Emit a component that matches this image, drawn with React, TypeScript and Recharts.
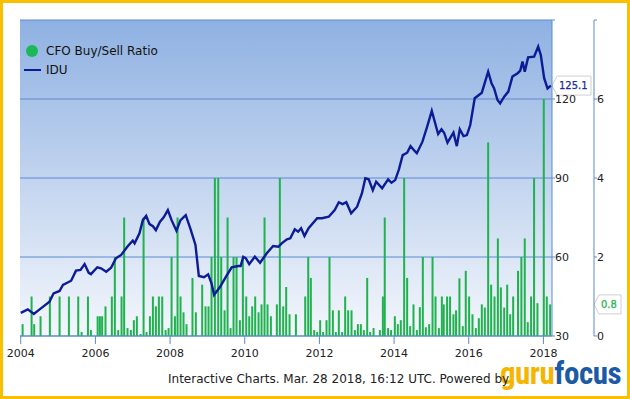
import React from 'react';
import { ComposedChart, Bar, Line, XAxis, YAxis, CartesianGrid, ReferenceLine } from 'recharts';

const barDates = [
  2004.05, 2004.29, 2004.36, 2004.53, 2004.78, 2005.04, 2005.29, 2005.54, 2005.63, 2005.80, 2005.88,
  2006.06, 2006.12, 2006.18, 2006.27, 2006.44, 2006.52, 2006.61, 2006.70, 2006.77, 2006.86, 2006.95,
  2007.03, 2007.11, 2007.21, 2007.29, 2007.37, 2007.46, 2007.54, 2007.62, 2007.70, 2007.79, 2007.88, 2007.96,
  2008.04, 2008.13, 2008.20, 2008.28, 2008.36, 2008.44, 2008.60, 2008.69, 2008.86, 2008.95,
  2009.03, 2009.11, 2009.20, 2009.29, 2009.37, 2009.46, 2009.54, 2009.62, 2009.70, 2009.78, 2009.87, 2009.95,
  2010.04, 2010.12, 2010.20, 2010.28, 2010.37, 2010.45, 2010.53, 2010.61, 2010.70, 2010.86, 2010.94,
  2011.03, 2011.11, 2011.20, 2011.37, 2011.62, 2011.70, 2011.77, 2011.86, 2011.94,
  2012.02, 2012.10, 2012.19, 2012.27, 2012.36, 2012.44, 2012.52, 2012.61, 2012.69, 2012.77, 2012.86, 2012.95,
  2013.03, 2013.11, 2013.19, 2013.28, 2013.36, 2013.45, 2013.62, 2013.70, 2013.75, 2013.84, 2013.92,
  2014.02, 2014.10, 2014.18, 2014.27, 2014.35, 2014.43, 2014.52, 2014.61, 2014.69, 2014.77, 2014.85, 2014.94,
  2015.03, 2015.11, 2015.20, 2015.28, 2015.33, 2015.42, 2015.50, 2015.59, 2015.66, 2015.75, 2015.84, 2015.92,
  2016.01, 2016.10, 2016.19, 2016.27, 2016.35, 2016.43, 2016.52, 2016.60, 2016.69, 2016.78, 2016.86, 2016.95,
  2017.03, 2017.11, 2017.19, 2017.32, 2017.41, 2017.50, 2017.58, 2017.67, 2017.75, 2017.84,
  2018.01, 2018.09, 2018.18,
];
const barValues = [
  0.3, 1.0, 0.3, 0.5, 1.0, 1.0, 1.0, 1.0, 0.1, 1.0, 0.15,
  0.5, 0.5, 0.5, 0.75, 1.0, 2.0, 0.15, 1.0, 3.0, 0.2, 0.15,
  0.4, 0.5, 0.05, 3.0, 0.1, 0.5, 1.0, 0.75, 1.0, 1.0, 0.15, 0.2,
  2.0, 0.5, 3.0, 1.0, 0.6, 0.3, 1.47, 0.6, 1.3, 0.75,
  0.75, 2.0, 4.0, 4.0, 2.0, 0.65, 3.0, 0.2, 2.0, 2.0, 0.4, 2.0,
  1.0, 0.5, 0.75, 1.0, 0.6, 0.8, 3.0, 0.8, 0.5, 0.8, 4.0,
  0.75, 1.24, 0.55, 0.55, 1.0, 2.0, 1.47, 0.15, 0.1,
  0.4, 0.1, 0.4, 2.0, 0.65, 0.1, 0.65, 0.1, 1.0, 0.65, 0.65, 0.15,
  0.3, 0.3, 0.15, 1.47, 0.1, 0.2, 0.15, 1.0, 3.0, 0.2, 0.15,
  0.5, 0.3, 0.4, 4.0, 1.47, 0.25, 0.8, 0.15, 0.73, 2.0, 0.22, 0.3,
  2.0, 1.0, 0.2, 1.0, 0.8, 1.0, 1.0, 0.55, 0.65, 1.46, 0.25, 1.65,
  1.0, 0.55, 0.2, 0.45, 0.8, 0.72, 4.9, 1.3, 1.0, 2.47, 1.23, 0.72,
  1.3, 0.55, 1.0, 1.65, 2.0, 2.47, 0.35, 1.0, 4.0, 0.83,
  6.0, 1.0, 0.8,
];

const iduDates = [
  2004.00, 2004.19, 2004.35, 2004.54, 2004.77, 2004.88, 2005.04, 2005.13, 2005.35, 2005.48, 2005.60, 2005.71,
  2005.82, 2005.88, 2006.05, 2006.15, 2006.29, 2006.42, 2006.55, 2006.69, 2006.87, 2007.00, 2007.05, 2007.18,
  2007.27, 2007.36, 2007.45, 2007.54, 2007.62, 2007.73, 2007.83, 2007.94, 2008.04, 2008.17, 2008.28, 2008.42,
  2008.55, 2008.68, 2008.77, 2008.91, 2009.02, 2009.11, 2009.18, 2009.34, 2009.51, 2009.65, 2009.83, 2009.89,
  2009.96, 2010.03, 2010.12, 2010.27, 2010.41, 2010.59, 2010.76, 2010.90, 2010.99, 2011.13, 2011.22, 2011.34,
  2011.43, 2011.51, 2011.60, 2011.71, 2011.94, 2012.07, 2012.25, 2012.41, 2012.52, 2012.62, 2012.72, 2012.85,
  2013.01, 2013.14, 2013.23, 2013.32, 2013.43, 2013.52, 2013.68, 2013.84, 2013.93, 2014.03, 2014.13, 2014.23,
  2014.35, 2014.44, 2014.57, 2014.61, 2014.76, 2014.88, 2015.01, 2015.18, 2015.27, 2015.34, 2015.43, 2015.59,
  2015.68, 2015.76, 2015.86, 2015.95, 2016.04, 2016.16, 2016.35, 2016.52, 2016.61, 2016.68, 2016.77, 2016.84,
  2016.95, 2017.06, 2017.17, 2017.31, 2017.38, 2017.44, 2017.50, 2017.59, 2017.75, 2017.86, 2017.93, 2018.02,
  2018.11, 2018.20,
];
const iduValues = [
  38.8, 40.1, 38.4, 40.5, 43.0, 46.2, 47.1, 49.4, 51.0, 54.8, 55.1, 57.3,
  54.0, 53.5, 56.1, 55.7, 54.4, 55.9, 59.5, 60.8, 64.2, 66.2, 65.2, 69.0,
  74.0, 75.6, 72.5, 71.7, 70.2, 73.4, 75.1, 77.8, 74.0, 70.0, 74.0, 75.9,
  70.5, 64.6, 52.8, 52.3, 53.4, 50.0, 45.6, 48.7, 52.8, 56.1, 56.6, 56.6,
  60.1, 59.5, 57.3, 60.1, 57.8, 61.4, 64.2, 63.9, 65.2, 66.7, 67.1, 70.5,
  69.6, 70.9, 68.0, 70.9, 74.7, 74.7, 75.3, 77.8, 80.8, 80.1, 80.8, 76.6,
  79.1, 84.2, 89.9, 89.5, 85.4, 88.6, 86.1, 89.5, 88.2, 89.2, 93.3, 98.7,
  99.6, 102.1, 100.0, 99.4, 103.8, 109.2, 115.5, 106.7, 108.5, 107.2, 103.4, 107.2,
  102.1, 108.5, 105.9, 106.3, 110.1, 120.3, 122.4, 130.4, 126.0, 124.0, 119.6, 118.3,
  120.9, 122.8, 128.5, 129.8, 130.8, 134.2, 130.4, 135.8, 136.1, 139.9, 136.7, 127.9,
  124.0, 125.1,
];

const yearTicks = [2004, 2006, 2008, 2010, 2012, 2014, 2016, 2018];
const iduTicks = [30, 60, 90, 120, 150];
const ratioTicks = [0, 2, 4, 6, 8];
const xDomain = [2003.98, 2018.23];
const iduDomain = [30, 150];
const ratioDomain = [0, 8];

const lastIdu = iduValues[iduValues.length - 1];
const lastRatio = barValues[barValues.length - 1];

const data = [
  ...barDates.map((d, i) => ({ date: d, ratio: barValues[i] })),
  ...iduDates.map((d, i) => ({ date: d, idu: iduValues[i] })),
].sort((a, b) => a.date - b.date);

const FONT = '"DejaVu Sans", sans-serif';
const BLUE = '#5b8bd2';
const GREEN = '#1fb24e';
const NAVY = '#0c1b96';
const IDU_AXIS_W = 42;
const BAR_W = 2;

function ThinBar(props: any) {
  const { x, y, width, height } = props;
  if (height == null || !isFinite(height) || height <= 0) return null;
  const cx = x + (width || 0) / 2;
  return <rect x={cx - BAR_W / 2} y={y} width={BAR_W} height={height} fill={GREEN} />;
}

function Callout(props: any) {
  const { viewBox, text, color, shift } = props;
  if (!viewBox) return null;
  const tx = viewBox.x + viewBox.width + shift;
  const ty = viewBox.y;
  const w = text.length * 6 + 4;
  const h = 19;
  const d = `M${tx},${ty} L${tx + 5},${ty - h / 2} L${tx + 5 + w},${ty - h / 2} L${tx + 5 + w},${ty + h / 2} L${tx + 5},${ty + h / 2} Z`;
  return (
    <g>
      <path d={d} fill="rgba(255,255,255,0.92)" stroke="#cfcfcf" strokeWidth={1} />
      <text x={tx + 7} y={ty} dominantBaseline="central" fontSize={10} fontFamily={FONT} fill={color} stroke={color} strokeWidth={0.25}>
        {text}
      </text>
    </g>
  );
}

export default function App() {
  return (
    <div style={{ position: 'absolute', left: 0, top: 0, width: 630, height: 399, background: '#fff', fontFamily: FONT }}>
      <ComposedChart width={630} height={399} data={data} margin={{ top: 20, right: 0, bottom: 33, left: 20 }}>
        <defs>
          <linearGradient id="plotBg" x1="0" y1="0" x2="0" y2="1">
            <stop offset="0%" stopColor="#8fb1e2" />
            <stop offset="100%" stopColor="#f4f7fc" />
          </linearGradient>
        </defs>
        <CartesianGrid yAxisId="idu" vertical={false} stroke={BLUE} fill="url(#plotBg)" fillOpacity={1} />
        <XAxis
          dataKey="date"
          type="number"
          domain={xDomain}
          ticks={yearTicks}
          allowDataOverflow
          height={30}
          stroke={BLUE}
          tickSize={8}
          tickMargin={5}
          tick={{ fontSize: 11, fill: '#222', fontFamily: FONT }}
          tickFormatter={(v: number) => String(Math.round(v))}
        />
        <YAxis yAxisId="frame" orientation="left" width={0} tick={false} tickLine={false} stroke={BLUE} />
        <YAxis
          yAxisId="idu"
          orientation="right"
          width={IDU_AXIS_W}
          domain={iduDomain}
          ticks={iduTicks}
          allowDataOverflow
          stroke={BLUE}
          tickSize={3}
          tickMargin={0}
          tick={{ fontSize: 11, fill: '#222', fontFamily: FONT }}
          tickFormatter={(v: number) => (v === 150 ? '' : String(v))}
        />
        <YAxis
          yAxisId="ratio"
          orientation="right"
          width={36}
          domain={ratioDomain}
          ticks={ratioTicks}
          allowDataOverflow
          stroke={BLUE}
          tickSize={3}
          tickMargin={0}
          tick={{ fontSize: 11, fill: '#222', fontFamily: FONT }}
          tickFormatter={(v: number) => (v === 8 ? '' : String(v))}
        />
        <Bar yAxisId="ratio" dataKey="ratio" fill={GREEN} shape={ThinBar} isAnimationActive={false} />
        <Line
          yAxisId="idu"
          dataKey="idu"
          type="linear"
          stroke={NAVY}
          strokeWidth={2.4}
          dot={false}
          connectNulls
          isAnimationActive={false}
        />
        <ReferenceLine
          yAxisId="idu"
          y={lastIdu}
          stroke="none"
          ifOverflow="visible"
          label={(p: any) => <Callout viewBox={p.viewBox} text={lastIdu.toFixed(1)} color="#1a2aa0" shift={0} />}
        />
        <ReferenceLine
          yAxisId="ratio"
          y={lastRatio}
          stroke="none"
          ifOverflow="visible"
          label={(p: any) => <Callout viewBox={p.viewBox} text={lastRatio.toFixed(1)} color={GREEN} shift={IDU_AXIS_W} />}
        />
      </ComposedChart>

      <div style={{ position: 'absolute', left: 26, top: 45, display: 'flex', alignItems: 'center' }}>
        <span style={{ width: 12, height: 12, borderRadius: '50%', background: '#1cb858', display: 'inline-block' }} />
        <span style={{ marginLeft: 8, fontSize: 12, color: '#111', lineHeight: '12px' }}>CFO Buy/Sell Ratio</span>
      </div>
      <div style={{ position: 'absolute', left: 24, top: 64, display: 'flex', alignItems: 'center' }}>
        <span style={{ width: 17, height: 2, background: NAVY, display: 'inline-block' }} />
        <span style={{ marginLeft: 5, fontSize: 12, color: '#111', lineHeight: '12px' }}>IDU</span>
      </div>

      <div
        style={{
          position: 'absolute',
          left: 500,
          top: 364,
          fontFamily: '"Liberation Sans Narrow", "Roboto Condensed", Roboto, sans-serif',
          fontWeight: 700,
          fontSize: 31,
          lineHeight: '20px',
          letterSpacing: -0.5,
          whiteSpace: 'nowrap',
        }}
      >
        <span style={{ color: '#f6b500' }}>guru</span>
        <span style={{ color: '#1b5aa6' }}>focus</span>
      </div>
      <div style={{ position: 'absolute', left: 168, top: 372, fontSize: 12, lineHeight: '14px', color: '#222', whiteSpace: 'nowrap' }}>
        Interactive Charts. Mar. 28 2018, 16:12 UTC. Powered by
      </div>

      <div
        style={{
          position: 'absolute',
          left: 0,
          top: 0,
          width: 630,
          height: 399,
          boxSizing: 'border-box',
          border: '3px solid #f9c000',
          pointerEvents: 'none',
        }}
      />
    </div>
  );
}
